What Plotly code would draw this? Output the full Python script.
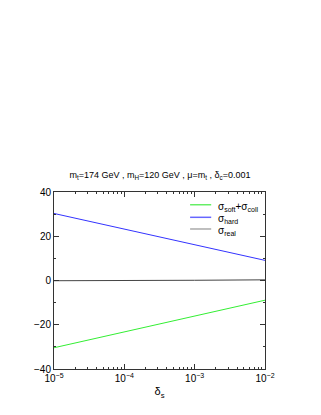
import plotly.graph_objects as go

# delta_s values and cross-section pieces
delta_s = [1e-5, 1e-4, 1e-3, 1e-2]
sigma_soft_coll = [-30.4, -23.3, -16.1, -8.9]
sigma_hard = [30.3, 23.2, 16.1, 9.1]
sigma_real = [-0.1, -0.1, 0.1, 0.3]

names = ['σ<sub>soft</sub>+σ<sub>coll</sub>', 'σ<sub>hard</sub>', 'σ<sub>real</sub>']
colors = ['#33ee33', '#3333ff', '#444444']
key_colors = ['#66ee66', '#6666ff', '#aaaaaa']

fig = go.Figure()
for ys, name, color in zip([sigma_soft_coll, sigma_hard, sigma_real], names, colors):
    fig.add_trace(go.Scatter(x=delta_s, y=ys, mode='lines',
                             line=dict(color=color, width=1), name=name))

# compact legend drawn by hand (plotly's legend rows are too tall)
legend_rows = [0.928, 0.857, 0.791]
for row, name, color in zip(legend_rows, names, key_colors):
    fig.add_shape(type='line', xref='paper', yref='paper',
                  x0=0.645, x1=0.745, y0=row, y1=row,
                  line=dict(color=color, width=1.5))
    fig.add_annotation(text=name, xref='paper', yref='paper',
                       x=0.768, y=row, xanchor='left', yanchor='middle',
                       yshift=-2, showarrow=False, font=dict(size=10))

axis_font = dict(family='Liberation Sans, Arial, sans-serif', size=10, color='black')

# the page adds an 8px body margin, so the figure is 8px smaller than the window
fig.update_layout(
    width=313, height=407,
    margin=dict(l=46, r=56, t=184, b=46),
    paper_bgcolor='white', plot_bgcolor='white',
    font=axis_font,
    showlegend=False,
    title=dict(text='m<sub>t</sub>=174 GeV , m<sub>H</sub>=120 GeV , μ=m<sub>t</sub> , δ<sub>c</sub>=0.001',
               x=(160 - 8) / 313, xanchor='center', y=1 - 167 / 407, yanchor='middle',
               font=dict(family='Liberation Sans, Arial, sans-serif', size=9)),
)

fig.update_xaxes(
    type='log', range=[-5, -2],
    tickvals=[1e-5, 1e-4, 1e-3, 1e-2],
    ticktext=['10<sup>−5</sup>', '10<sup>−4</sup>', '10<sup>−3</sup>', '10<sup>−2</sup>'],
    ticks='inside', ticklen=5, tickcolor='#333',
    minor=dict(ticks='inside', ticklen=2, tickcolor='#333', dtick='D1', showgrid=False),
    showline=True, linecolor='#333', linewidth=1, mirror='ticks',
    showgrid=False, zeroline=False,
    title=dict(text='δ<sub>s</sub>', font=dict(size=11), standoff=4),
)
fig.update_yaxes(
    range=[-40, 40],
    tickvals=[-40, -20, 0, 20, 40],
    ticktext=['−40', '−20', '0', '20', '40'],
    ticks='inside', ticklen=5, tickcolor='#333',
    minor=dict(ticks='inside', ticklen=2, tickcolor='#333', dtick=10, showgrid=False),
    showline=True, linecolor='#333', linewidth=1, mirror='ticks',
    showgrid=False, zeroline=False,
)

fig.write_html("out.html")
